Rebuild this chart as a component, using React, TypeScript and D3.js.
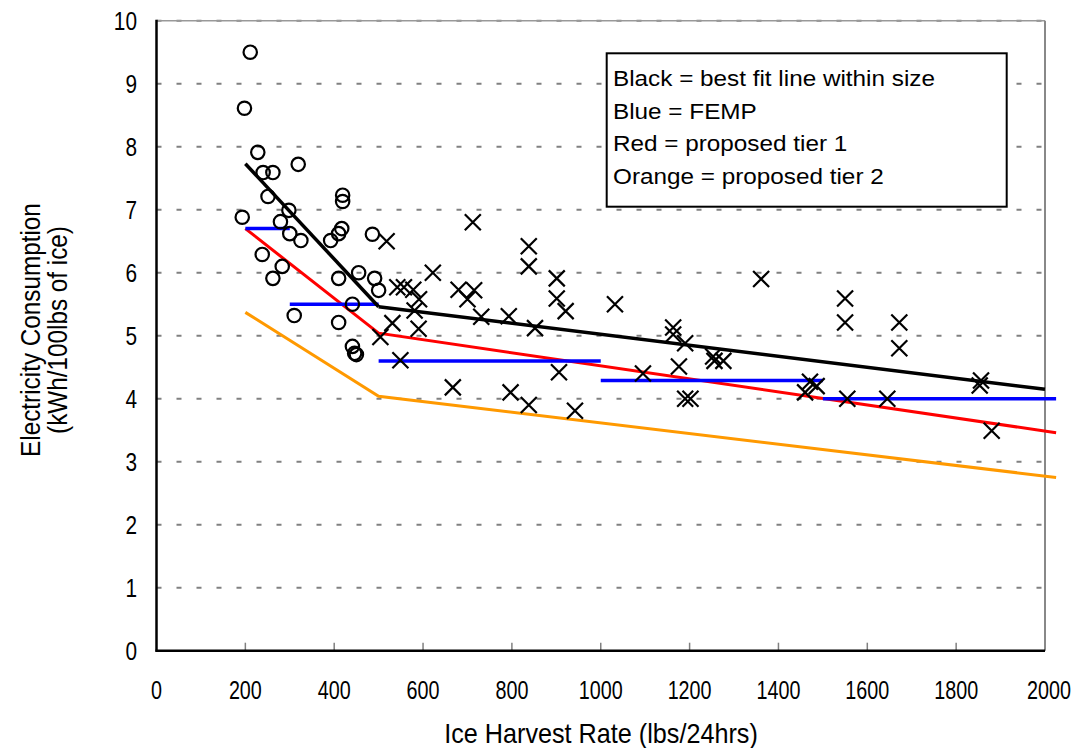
import React from "react";
import * as d3 from "d3";

// measured units: smaller machines (circles) and larger machines (crosses)
const smallUnits: [number, number][] = [
  [211, 9.5], [198, 8.61], [228, 7.91], [240, 7.59], [262, 7.59], [319, 7.72],
  [251, 7.21], [298, 6.99], [193, 6.88], [279, 6.81], [300, 6.62], [325, 6.51],
  [419, 7.23], [419, 7.13], [417, 6.7], [410, 6.62], [392, 6.51], [486, 6.61],
  [238, 6.29], [283, 6.1], [262, 5.91], [410, 5.91], [455, 6.0], [491, 5.91],
  [500, 5.72], [441, 5.5], [310, 5.32], [410, 5.21], [441, 4.83], [446, 4.72],
  [450, 4.7],
];

const largeUnits: [number, number][] = [
  [712, 6.8], [518, 6.5], [838, 6.42], [838, 6.1], [622, 6.0], [901, 5.91],
  [901, 5.59], [921, 5.39], [1032, 5.5], [542, 5.77], [557, 5.77], [578, 5.73],
  [591, 5.58], [680, 5.73], [715, 5.72], [700, 5.58], [581, 5.4], [731, 5.3],
  [793, 5.31], [852, 5.12], [531, 5.2], [590, 5.11], [504, 4.98], [549, 4.61],
  [906, 4.42], [667, 4.18], [797, 4.1], [838, 3.9], [942, 3.81], [1095, 4.4],
  [1361, 5.9], [1550, 5.59], [1550, 5.21], [1163, 5.13], [1163, 5.02], [1190, 4.88],
  [1176, 4.51], [1253, 4.67], [1256, 4.6], [1276, 4.6], [1190, 4.0], [1202, 4.0],
  [1471, 4.27], [1486, 4.2], [1460, 4.1], [1555, 4.0], [1645, 4.0], [1672, 5.21],
  [1672, 4.8], [1856, 4.29], [1853, 4.21], [1880, 3.49],
];

const bestFitSmall: [number, number][] = [[200, 7.73], [500, 5.46]];
const bestFitLarge: [number, number][] = [[500, 5.46], [2000, 4.15]];
const tier1: [number, number][] = [[200, 6.7], [500, 5.04], [2025, 3.46]];
const tier2: [number, number][] = [[200, 5.37], [500, 4.04], [2025, 2.75]];
// FEMP steps: [from, to, level]
const femp: [number, number, number][] = [
  [200, 300, 6.7], [300, 500, 5.5], [500, 1000, 4.6], [1000, 1500, 4.29], [1500, 2025, 4.0],
];

const xTicks = [0, 200, 400, 600, 800, 1000, 1200, 1400, 1600, 1800, 2000];
const yTicks = [0, 1, 2, 3, 4, 5, 6, 7, 8, 9, 10];

const legendLines = [
  "Black = best fit line within size",
  "Blue = FEMP",
  "Red = proposed tier 1",
  "Orange = proposed tier 2",
];

const W = 1076;
const H = 748;
const plot = { left: 156.5, right: 1045, top: 20.7, bottom: 650.7 };
const font = "'Liberation Sans', Arial, sans-serif";

export default function App() {
  const x = d3.scaleLinear().domain([0, 2000]).range([plot.left, plot.right]);
  const y = d3.scaleLinear().domain([0, 10]).range([plot.bottom, plot.top]);
  const line = d3
    .line<[number, number]>()
    .x((d) => x(d[0]))
    .y((d) => y(d[1]));

  return (
    <div style={{ position: "absolute", left: 0, top: 0 }}>
      <svg width={W} height={H} style={{ display: "block", background: "#fff" }}>
        {/* grid */}
        {yTicks.slice(1).map((t) => (
          <line
            key={t}
            x1={plot.left}
            x2={plot.right}
            y1={y(t)}
            y2={y(t)}
            stroke="#808080"
            strokeWidth={2}
            strokeDasharray="5,15"
          />
        ))}
        {/* top and right frame */}
        <line x1={plot.left} x2={plot.right} y1={plot.top} y2={plot.top} stroke="#999" strokeWidth={1.5} />
        <line x1={plot.right} x2={plot.right} y1={plot.top} y2={plot.bottom} stroke="#888" strokeWidth={2} />

        {/* x ticks (inside) */}
        {xTicks.slice(1, -1).map((t) => (
          <line key={t} x1={x(t)} x2={x(t)} y1={plot.bottom} y2={plot.bottom - 8} stroke="#808080" strokeWidth={1.5} />
        ))}

        {/* lines */}
        <path d={line(tier2) || ""} fill="none" stroke="#ff9900" strokeWidth={3} />
        <path d={line(tier1) || ""} fill="none" stroke="#ff0000" strokeWidth={3} />
        {femp.map(([a, b, v], i) => (
          <line key={i} x1={x(a)} x2={x(b)} y1={y(v)} y2={y(v)} stroke="#0000ff" strokeWidth={3.5} />
        ))}
        <path d={line(bestFitSmall) || ""} fill="none" stroke="#000" strokeWidth={3.5} />
        <path d={line(bestFitLarge) || ""} fill="none" stroke="#000" strokeWidth={3.5} />

        {/* markers */}
        {smallUnits.map(([a, v], i) => (
          <circle key={i} cx={x(a)} cy={y(v)} r={6.7} fill="none" stroke="#000" strokeWidth={2.2} />
        ))}
        {largeUnits.map(([a, v], i) => {
          const cx = x(a);
          const cy = y(v);
          const s = 8;
          return (
            <path
              key={i}
              d={`M${cx - s},${cy - s}L${cx + s},${cy + s}M${cx - s},${cy + s}L${cx + s},${cy - s}`}
              stroke="#000"
              strokeWidth={2.2}
            />
          );
        })}

        {/* axes */}
        <line x1={plot.left} x2={plot.left} y1={plot.top - 1} y2={plot.bottom + 1} stroke="#000" strokeWidth={2.5} />
        <line x1={plot.left - 1} x2={plot.right} y1={plot.bottom} y2={plot.bottom} stroke="#000" strokeWidth={2.5} />

        {/* tick labels, drawn tall and narrow like the original */}
        {yTicks.map((t) => (
          <text
            key={t}
            transform={`translate(137,${y(t) + 9}) scale(0.8,1)`}
            textAnchor="end"
            fontFamily={font}
            fontSize={26}
            fill="#000"
          >
            {t}
          </text>
        ))}
        {xTicks.map((t) => (
          <text
            key={t}
            transform={`translate(${x(t) + (t === 2000 ? 4 : 0)},699) scale(0.76,1)`}
            textAnchor="middle"
            fontFamily={font}
            fontSize={26}
            fill="#000"
          >
            {t}
          </text>
        ))}

        {/* axis titles */}
        <text
          transform="translate(601,743) scale(0.9,1)"
          textAnchor="middle"
          fontFamily={font}
          fontSize={28}
          fill="#000"
        >
          Ice Harvest Rate (lbs/24hrs)
        </text>
        <text transform="translate(40,330) rotate(-90) scale(0.9,1)" textAnchor="middle" fontFamily={font} fontSize={27} fill="#000">
          Electricity Consumption
        </text>
        <text transform="translate(67,330) rotate(-90) scale(0.9,1)" textAnchor="middle" fontFamily={font} fontSize={27} fill="#000">
          (kWh/100lbs of ice)
        </text>

        {/* legend note */}
        <rect x={606.7} y={53.3} width={400} height={153.4} fill="#fff" stroke="#000" strokeWidth={2} />
        {legendLines.map((s, i) => (
          <text
            key={i}
            transform={`translate(613,${86 + i * 32.5}) scale(1.08,1)`}
            fontFamily={font}
            fontSize={22.5}
            fill="#000"
          >
            {s}
          </text>
        ))}
      </svg>
    </div>
  );
}
